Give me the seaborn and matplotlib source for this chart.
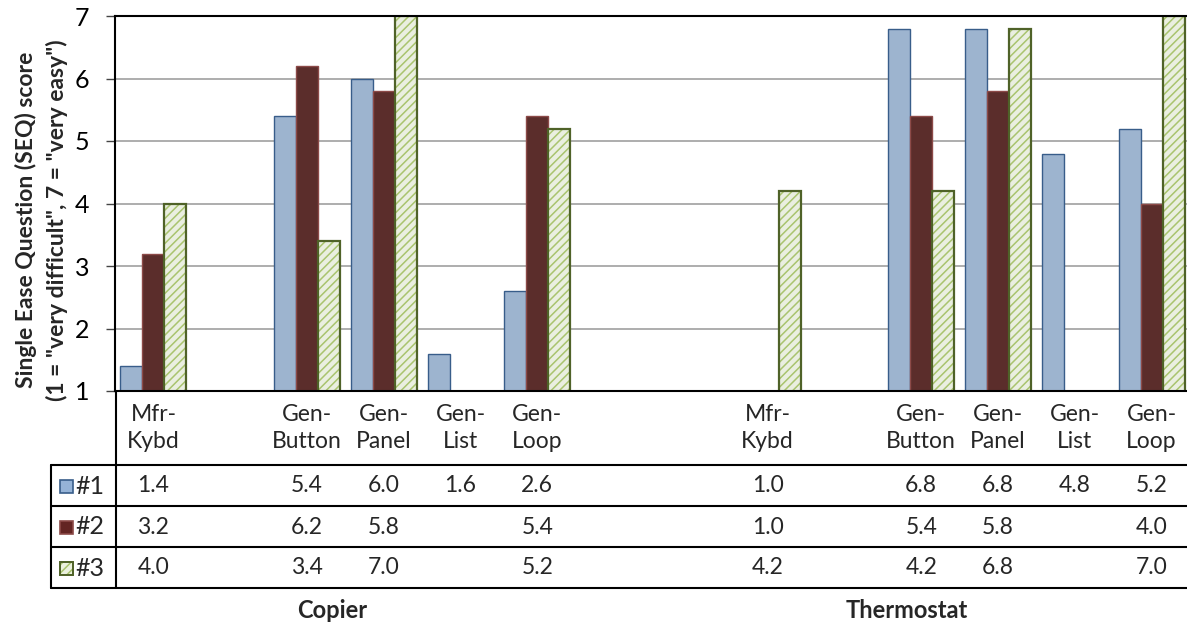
import numpy as np
import pandas as pd
import matplotlib.pyplot as plt
import seaborn as sns
from matplotlib.patches import Rectangle
from matplotlib.lines import Line2D
from matplotlib.transforms import blended_transform_factory

# ============================================================
# SEQ scores per design, grouped bars + Excel-style data table
# ============================================================

# ---- data (NaN = no value / spacer slot) ----
cat_labels = ["Mfr-\nKybd", "", "Gen-\nButton", "Gen-\nPanel", "Gen-\nList", "Gen-\nLoop", "", "",
              "Mfr-\nKybd", "", "Gen-\nButton", "Gen-\nPanel", "Gen-\nList", "Gen-\nLoop"]
series_names = ["#1", "#2", "#3"]
nan = np.nan
seq_1 = [1.4, nan, 5.4, 6.0, 1.6, 2.6, nan, nan, 1.0, nan, 6.8, 6.8, 4.8, 5.2]
seq_2 = [3.2, nan, 6.2, 5.8, nan, 5.4, nan, nan, 1.0, nan, 5.4, 5.8, nan, 4.0]
seq_3 = [4.0, nan, 3.4, 7.0, nan, 5.2, nan, nan, 4.2, nan, 4.2, 6.8, nan, 7.0]
group_labels = ["Copier", "Thermostat"]
y_ticks = [1, 2, 3, 4, 5, 6, 7]

# ---- styling ----
fills = {"#1": "#95b3d7", "#2": "#632523", "#3": "#ebf1de"}
edges = {"#1": "#385d8a", "#2": "#8c4a48", "#3": "#a9c46e"}
outline_3 = "#4f6228"

W, H = 1187, 626


def fx(px):
    return px / W


def fy(py):
    return 1 - py / H


slots = [f"s{i}" for i in range(len(cat_labels))]
rows = []
for name, vals in zip(series_names, [seq_1, seq_2, seq_3]):
    for slot, v in zip(slots, vals):
        if not np.isnan(v):
            rows.append({"slot": slot, "series": name, "score": v})
df = pd.DataFrame(rows)

sns.set_theme(style="white")
plt.rcParams["font.family"] = ["Lato", "DejaVu Sans"]
plt.rcParams["hatch.linewidth"] = 1.1

fig = plt.figure(figsize=(W / 100, H / 100), dpi=100)
ax = fig.add_axes([fx(115), fy(391), fx(1190 - 115), (391 - 16) / H])

sns.barplot(data=df, x="slot", y="score", hue="series",
            order=slots, hue_order=series_names, palette=fills,
            width=0.86, gap=0, dodge=True, errorbar=None,
            legend=False, ax=ax, linewidth=1.0)

for name, cont in zip(series_names, ax.containers):
    for p in cont:
        p.set_edgecolor(edges[name])
        if name == "#3":
            p.set_hatch("////")
            p.set_linewidth(0)
            ax.add_patch(Rectangle((p.get_x(), p.get_y()), p.get_width(), p.get_height(),
                                   fill=False, edgecolor=outline_3, lw=1.6, zorder=p.get_zorder() + 0.1))

ax.set_ylim(1, 7)
ax.set_xlim(-0.5, len(slots) - 0.5)
ax.set_yticks(y_ticks)
ax.set_xticks([])
ax.set_xlabel("")
ax.yaxis.grid(True, color="#a0a0a0", lw=1.2)
ax.set_axisbelow(True)
ax.tick_params(axis="y", left=True, length=6.5, width=1.0, color="#444444",
               pad=12, labelsize=18, labelcolor="black")
for side in ["left", "bottom", "top"]:
    ax.spines[side].set_color("black")
    ax.spines[side].set_linewidth(1.5)
ax.spines["right"].set_visible(False)

ax.set_ylabel('Single Ease Question (SEQ) score\n(1 = "very difficult", 7 = "very easy")',
              fontsize=16.5, fontweight="bold", linespacing=1.5)
ax.yaxis.set_label_coords((68 - 115) / 1075, (391 - 220) / 375)

# ---- data table under the plot ----
tr = blended_transform_factory(ax.transData, fig.transFigure)
for i, lab in enumerate(cat_labels):
    if lab:
        ax.text(i, fy(428), lab, transform=tr, ha="center", va="center",
                fontsize=16.5, linespacing=1.3, clip_on=False)

row_mid = [486, 527, 568]
for r, (name, vals) in enumerate(zip(series_names, [seq_1, seq_2, seq_3])):
    for i, v in enumerate(vals):
        if not np.isnan(v):
            ax.text(i, fy(row_mid[r]), f"{v:.1f}", transform=tr, ha="center", va="center",
                    fontsize=16.5, clip_on=False)
    # legend key + series name
    key = Rectangle((fx(60), fy(row_mid[r] + 7)), fx(13), 13 / H, transform=fig.transFigure,
                    facecolor=fills[name], edgecolor=edges[name], lw=1.2,
                    hatch="////" if name == "#3" else None)
    fig.add_artist(key)
    if name == "#3":
        fig.add_artist(Rectangle((fx(60), fy(row_mid[r] + 7)), fx(13), 13 / H,
                                 transform=fig.transFigure, fill=False, edgecolor=outline_3, lw=1.4))
    fig.text(fx(75), fy(row_mid[r]), name, ha="left", va="center", fontsize=18)

for py in [465, 506, 547, 588]:
    fig.add_artist(Line2D([fx(51), 1.0], [fy(py), fy(py)], color="black", lw=1.5))
fig.add_artist(Line2D([fx(115.5), fx(115.5)], [fy(391), fy(588)], color="black", lw=1.5))
fig.add_artist(Line2D([fx(51), fx(51)], [fy(465), fy(588)], color="black", lw=1.5))

for lab, xc in zip(group_labels, [2.33, 9.81]):
    ax.text(xc, fy(611), lab, transform=tr, ha="center", va="center",
            fontsize=17, fontweight="bold", clip_on=False)

fig.savefig("out.png", dpi=100)
